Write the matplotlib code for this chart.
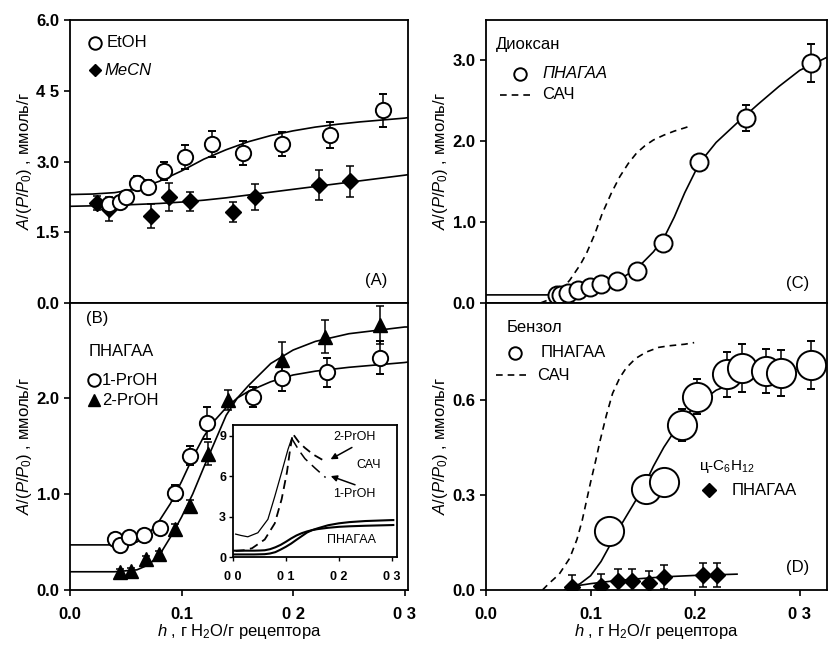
import matplotlib
matplotlib.use("Agg")
import matplotlib.pyplot as plt

plt.rcParams['font.family'] = ['Liberation Sans', 'DejaVu Sans']
plt.rcParams['mathtext.fontset'] = 'custom'
plt.rcParams['mathtext.rm'] = 'Liberation Sans'
plt.rcParams['mathtext.it'] = 'Liberation Sans:italic'
plt.rcParams['axes.linewidth'] = 1.3

# ---- panel A: EtOH / MeCN
etoh_h = [0.035, 0.0445, 0.05, 0.06, 0.07, 0.084, 0.103, 0.127, 0.155, 0.19, 0.233, 0.281]
etoh_a = [2.10, 2.14, 2.25, 2.54, 2.46, 2.80, 3.09, 3.37, 3.18, 3.37, 3.56, 4.09]
etoh_err = [0.1, 0.1, 0.12, 0.15, 0.15, 0.2, 0.25, 0.27, 0.25, 0.25, 0.27, 0.35]
mecn_h = [0.024, 0.035, 0.073, 0.089, 0.108, 0.146, 0.166, 0.223, 0.251]
mecn_a = [2.12, 1.99, 1.84, 2.25, 2.16, 1.93, 2.25, 2.50, 2.58]
mecn_err = [0.15, 0.25, 0.25, 0.3, 0.2, 0.22, 0.28, 0.32, 0.33]
fitA_h = [0, 0.02, 0.04, 0.06, 0.08, 0.10, 0.12, 0.14, 0.16, 0.18, 0.20, 0.22, 0.24, 0.26, 0.28, 0.30, 0.303]
etoh_fit = [2.30, 2.31, 2.34, 2.42, 2.58, 2.80, 3.05, 3.25, 3.42, 3.55, 3.65, 3.73, 3.79, 3.84, 3.88, 3.92, 3.93]
mecn_fit = [2.05, 2.06, 2.07, 2.09, 2.11, 2.14, 2.18, 2.23, 2.29, 2.35, 2.41, 2.47, 2.53, 2.59, 2.65, 2.71, 2.72]

# ---- panel B: 1-PrOH / 2-PrOH
pr1_h = [0.040, 0.0445, 0.053, 0.066, 0.081, 0.094, 0.108, 0.123, 0.164, 0.19, 0.23, 0.278]
pr1_a = [0.53, 0.47, 0.55, 0.57, 0.65, 1.01, 1.40, 1.74, 2.01, 2.21, 2.27, 2.42]
pr1_err = [0.05, 0.05, 0.05, 0.05, 0.05, 0.08, 0.1, 0.17, 0.1, 0.14, 0.15, 0.17]
pr2_h = [0.0445, 0.055, 0.068, 0.080, 0.094, 0.108, 0.124, 0.142, 0.19, 0.229, 0.278]
pr2_a = [0.19, 0.20, 0.32, 0.375, 0.64, 0.875, 1.42, 1.98, 2.40, 2.64, 2.76]
pr2_err = [0.03, 0.03, 0.03, 0.03, 0.05, 0.06, 0.12, 0.1, 0.18, 0.17, 0.2]
fitB_h = [0, 0.04, 0.05, 0.06, 0.07, 0.08, 0.09, 0.10, 0.11, 0.12, 0.13, 0.14, 0.15, 0.16,
          0.18, 0.20, 0.22, 0.25, 0.30, 0.303]
pr1_fit = [0.47, 0.47, 0.48, 0.50, 0.58, 0.72, 0.90, 1.13, 1.38, 1.60, 1.77, 1.90, 2.00, 2.07,
           2.17, 2.24, 2.28, 2.32, 2.37, 2.375]
pr2_fit = [0.19, 0.19, 0.20, 0.21, 0.26, 0.36, 0.55, 0.76, 1.00, 1.28, 1.55, 1.82, 2.00, 2.13,
           2.36, 2.50, 2.59, 2.67, 2.74, 2.74]

# inset: САЧ curves
sach1_h = [0.005, 0.015, 0.028, 0.047, 0.066, 0.079, 0.092, 0.104, 0.111, 0.125, 0.136, 0.155, 0.175]
sach1_a = [1.7, 1.6, 1.5, 1.8, 2.8, 4.5, 6.3, 8.0, 8.8, 7.9, 7.3, 6.6, 5.9]
sach2_h = [0.005, 0.02, 0.036, 0.06, 0.079, 0.092, 0.102, 0.108, 0.113, 0.125, 0.136, 0.152, 0.172]
sach2_a = [0.45, 0.5, 0.65, 1.3, 2.5, 4.3, 6.3, 8.0, 9.15, 8.5, 8.1, 7.6, 7.15]

# ---- panel C: диоксан
dio_h = [0.068, 0.072, 0.078, 0.088, 0.099, 0.11, 0.125, 0.144, 0.169, 0.204, 0.249, 0.311]
dio_a = [0.10, 0.10, 0.12, 0.16, 0.20, 0.23, 0.27, 0.40, 0.74, 1.74, 2.28, 2.96]
dio_err = [0.03, 0.03, 0.03, 0.03, 0.03, 0.03, 0.04, 0.05, 0.06, 0.08, 0.16, 0.23]
fitC_h = [0, 0.06, 0.068, 0.08, 0.09, 0.10, 0.11, 0.12, 0.13, 0.14, 0.15, 0.16, 0.17, 0.18,
          0.19, 0.20, 0.21, 0.22, 0.24, 0.26, 0.28, 0.30, 0.326]
dio_fit = [0.10, 0.10, 0.10, 0.13, 0.17, 0.20, 0.23, 0.26, 0.31, 0.39, 0.50, 0.63, 0.80, 1.06,
           1.36, 1.62, 1.82, 1.98, 2.22, 2.45, 2.67, 2.87, 3.03]
sachC_h = [0.052, 0.06, 0.07, 0.08, 0.09, 0.096, 0.104, 0.111, 0.12, 0.128, 0.136, 0.144, 0.152,
           0.16, 0.17, 0.18, 0.19, 0.197]
sachC_a = [0.0, 0.04, 0.14, 0.28, 0.47, 0.61, 0.85, 1.1, 1.36, 1.56, 1.72, 1.85, 1.94,
           2.01, 2.07, 2.12, 2.16, 2.19]

# ---- panel D: бензол / ц-C6H12
benz_h = [0.118, 0.153, 0.170, 0.187, 0.202, 0.230, 0.245, 0.268, 0.282, 0.311]
benz_a = [0.186, 0.32, 0.34, 0.52, 0.61, 0.68, 0.70, 0.69, 0.685, 0.71]
benz_err = [0.02, 0.02, 0.02, 0.05, 0.055, 0.07, 0.075, 0.07, 0.072, 0.075]
benz_fit_h = [0.075, 0.08, 0.09, 0.10, 0.11, 0.12, 0.13, 0.14, 0.15, 0.16, 0.17, 0.18, 0.19,
              0.20, 0.22, 0.25, 0.28, 0.31]
benz_fit = [0.0, 0.005, 0.02, 0.045, 0.09, 0.15, 0.21, 0.265, 0.32, 0.39, 0.45, 0.50, 0.545,
            0.58, 0.63, 0.67, 0.69, 0.70]
sachD_h = [0.054, 0.06, 0.07, 0.08, 0.087, 0.092, 0.096, 0.10, 0.105, 0.109, 0.115, 0.121,
           0.128, 0.134, 0.143, 0.153, 0.165, 0.175, 0.19, 0.199]
sachD_a = [0.0, 0.02, 0.05, 0.1, 0.16, 0.22, 0.28, 0.34, 0.41, 0.47, 0.55, 0.62,
           0.67, 0.70, 0.73, 0.75, 0.765, 0.77, 0.775, 0.78]
ch_h = [0.082, 0.11, 0.126, 0.14, 0.156, 0.17, 0.207, 0.221]
ch_a = [0.010, 0.012, 0.028, 0.028, 0.022, 0.041, 0.047, 0.047]
ch_err = [0.037] * len(ch_h)
ch_fit_h = [0.077, 0.09, 0.10, 0.12, 0.14, 0.16, 0.18, 0.20, 0.22, 0.24]
ch_fit = [0.008, 0.015, 0.02, 0.028, 0.034, 0.039, 0.043, 0.046, 0.048, 0.05]

# tick labels as printed
yticksA = [0, 1.5, 3.0, 4.5, 6.0]
ylabA = ["0.0", "1.5", "3.0", "4 5", "6.0"]
yticksB = [0, 1, 2]
ylabB = ["0.0", "1.0", "2.0"]
yticksC = [0, 1, 2, 3]
ylabC = ["0.0", "1.0", "2.0", "3.0"]
yticksD = [0, 0.3, 0.6]
ylabD = ["0.0", "0.3", "0.6"]
xticks = [0, 0.1, 0.2, 0.3]
xlabB = ["0.0", "0.1", "0 2", "0 3"]
xlabD = ["0.0", "0.1", "0.2", "0 3"]
ins_yticks = [0, 3, 6, 9]
ins_xlab = ["0 0", "0 1", "0 2", "0 3"]

ylab = r"$A/(P/P_0)$ , ммоль/г"
xlab = r"$h$ , г H$_2$O/г рецептора"

fig = plt.figure(figsize=(8.34, 6.45), dpi=100)
W, H = 834, 645
def box(l, t, r, b):
    return [l / W, 1 - b / H, (r - l) / W, (b - t) / H]

axA = fig.add_axes(box(70, 20, 408, 303))
axB = fig.add_axes(box(70, 303, 408, 590))
axC = fig.add_axes(box(486, 20, 827, 303))
axD = fig.add_axes(box(486, 303, 827, 590))

for ax in (axA, axB, axC, axD):
    ax.tick_params(direction='out', length=4, width=1.2, labelsize=12)
    ax.set_xticks(xticks)

ebkw = dict(ecolor='k', elinewidth=1.1, capsize=3, capthick=1.1, linestyle='none')
open_kw = dict(mfc='white', mec='k', mew=1.4)

# A
axA.plot(fitA_h, etoh_fit, 'k-', lw=1.2)
axA.plot(fitA_h, mecn_fit, 'k-', lw=1.2)
axA.errorbar(mecn_h, mecn_a, yerr=mecn_err, fmt='D', ms=8, color='k', **ebkw)
axA.errorbar(etoh_h, etoh_a, yerr=etoh_err, fmt='o', ms=11, **open_kw, **ebkw)
axA.set_xlim(0, 0.303)
axA.set_ylim(0, 6.0)
axA.set_yticks(yticksA, ylabA, fontweight='bold')
axA.set_xticklabels([])
axA.set_ylabel(ylab, fontsize=12, labelpad=2)
axA.plot([0.074], [0.919], 'o', ms=9, transform=axA.transAxes, **open_kw)
axA.text(0.108, 0.919, "EtOH", transform=axA.transAxes, fontsize=12, va='center')
axA.plot([0.074], [0.823], 'D', ms=6, color='k', transform=axA.transAxes)
axA.text(0.103, 0.823, "MeCN", transform=axA.transAxes, fontsize=12, va='center', style='italic')
axA.text(0.905, 0.08, "(A)", transform=axA.transAxes, fontsize=12, ha='center', va='center')

# B
axB.plot(fitB_h, pr1_fit, 'k-', lw=1.2)
axB.plot(fitB_h, pr2_fit, 'k-', lw=1.2)
axB.errorbar(pr2_h, pr2_a, yerr=pr2_err, fmt='^', ms=10, color='k', **ebkw)
axB.errorbar(pr1_h, pr1_a, yerr=pr1_err, fmt='o', ms=11, **open_kw, **ebkw)
axB.set_xlim(0, 0.303)
axB.set_ylim(0, 2.99)
axB.set_yticks(yticksB, ylabB, fontweight='bold')
axB.set_xticks(xticks, xlabB, fontweight='bold')
axB.tick_params(axis='x', pad=8)
axB.set_ylabel(ylab, fontsize=12, labelpad=2)
axB.set_xlabel(xlab, fontsize=12, labelpad=0)
axB.text(0.08, 0.945, "(B)", transform=axB.transAxes, fontsize=12, ha='center', va='center')
axB.text(0.055, 0.83, "ПНАГАА", transform=axB.transAxes, fontsize=12, va='center')
axB.plot([0.07], [0.73], 'o', ms=9, transform=axB.transAxes, **open_kw)
axB.text(0.095, 0.73, "1-PrOH", transform=axB.transAxes, fontsize=12, va='center')
axB.plot([0.07], [0.662], '^', ms=8, color='k', transform=axB.transAxes)
axB.text(0.095, 0.662, "2-PrOH", transform=axB.transAxes, fontsize=12, va='center')

# inset
axI = fig.add_axes(box(233, 425, 397, 557))
axI.plot(fitB_h, pr1_fit, 'k-', lw=1.5)
axI.plot(fitB_h, pr2_fit, 'k-', lw=1.5)
ip1 = sach1_a.index(max(sach1_a))
axI.plot(sach1_h[:ip1 + 1], sach1_a[:ip1 + 1], 'k-', lw=0.9)
axI.plot(sach1_h[ip1:], sach1_a[ip1:], color='k', lw=1.1, ls=(0, (7, 4)))
axI.plot(sach2_h, sach2_a, color='k', lw=1.3, ls=(0, (5, 3)))
axI.set_xlim(0, 0.31)
axI.set_ylim(0, 9.8)
axI.set_yticks(ins_yticks, [str(v) for v in ins_yticks], fontweight='bold')
axI.set_xticks(xticks, ins_xlab, fontweight='bold')
axI.tick_params(direction='out', length=3, width=1, labelsize=9, pad=2)
axI.tick_params(axis='x', pad=7)
axI.text(0.74, 0.91, "2-PrOH", transform=axI.transAxes, fontsize=9, ha='center', va='center')
axI.text(0.83, 0.70, "САЧ", transform=axI.transAxes, fontsize=9, ha='center', va='center')
axI.text(0.74, 0.48, "1-PrOH", transform=axI.transAxes, fontsize=9, ha='center', va='center')
axI.text(0.72, 0.13, "ПНАГАА", transform=axI.transAxes, fontsize=9, ha='center', va='center')
axI.annotate("", xy=(0.58, 0.73), xytext=(0.74, 0.84), xycoords='axes fraction',
             arrowprops=dict(arrowstyle='-|>', color='k', lw=1.1, mutation_scale=9))
axI.annotate("", xy=(0.58, 0.62), xytext=(0.76, 0.54), xycoords='axes fraction',
             arrowprops=dict(arrowstyle='-|>', color='k', lw=1.1, mutation_scale=9))

# C
axC.plot(fitC_h, dio_fit, 'k-', lw=1.2)
axC.plot(sachC_h, sachC_a, color='k', lw=1.2, ls=(0, (4, 3)))
axC.errorbar(dio_h, dio_a, yerr=dio_err, fmt='o', ms=13, **open_kw, **ebkw)
axC.set_xlim(0, 0.326)
axC.set_ylim(0, 3.49)
axC.set_yticks(yticksC, ylabC, fontweight='bold')
axC.set_xticklabels([])
axC.set_ylabel(ylab, fontsize=12, labelpad=2)
axC.text(0.03, 0.915, "Диоксан", transform=axC.transAxes, fontsize=12, va='center')
axC.plot([0.1], [0.81], 'o', ms=9, transform=axC.transAxes, **open_kw)
axC.text(0.165, 0.81, "ПНАГАА", transform=axC.transAxes, fontsize=12, va='center', style='italic')
axC.plot([0.04, 0.145], [0.735, 0.735], color='k', lw=1.2, ls=(0, (4, 3)), transform=axC.transAxes)
axC.text(0.165, 0.735, "САЧ", transform=axC.transAxes, fontsize=12, va='center')
axC.text(0.915, 0.07, "(C)", transform=axC.transAxes, fontsize=12, ha='center', va='center')

# D
axD.plot(benz_fit_h, benz_fit, 'k-', lw=1.2)
axD.plot(sachD_h, sachD_a, color='k', lw=1.2, ls=(0, (4, 3)))
axD.plot(ch_fit_h, ch_fit, 'k-', lw=1.2)
axD.errorbar(ch_h, ch_a, yerr=ch_err, fmt='D', ms=8, color='k', **ebkw)
axD.errorbar(benz_h, benz_a, yerr=benz_err, fmt='o', ms=21, **open_kw, **ebkw)
axD.set_xlim(0, 0.326)
axD.set_ylim(0, 0.905)
axD.set_yticks(yticksD, ylabD, fontweight='bold')
axD.set_xticks(xticks, xlabD, fontweight='bold')
axD.tick_params(axis='x', pad=8)
axD.set_ylabel(ylab, fontsize=12, labelpad=2)
axD.set_xlabel(xlab, fontsize=12, labelpad=0)
axD.text(0.06, 0.916, "Бензол", transform=axD.transAxes, fontsize=12, va='center')
axD.plot([0.085], [0.826], 'o', ms=9, transform=axD.transAxes, **open_kw)
axD.text(0.16, 0.826, "ПНАГАА", transform=axD.transAxes, fontsize=12, va='center')
axD.plot([0.03, 0.13], [0.749, 0.749], color='k', lw=1.2, ls=(0, (4, 3)), transform=axD.transAxes)
axD.text(0.15, 0.749, "САЧ", transform=axD.transAxes, fontsize=12, va='center')
axD.text(0.625, 0.43, "ц-C$_6$H$_{12}$", transform=axD.transAxes, fontsize=11, va='center')
axD.plot([0.655], [0.348], 'D', ms=7, color='k', transform=axD.transAxes)
axD.text(0.72, 0.348, "ПНАГАА", transform=axD.transAxes, fontsize=12, va='center')
axD.text(0.915, 0.077, "(D)", transform=axD.transAxes, fontsize=12, ha='center', va='center')

fig.savefig("out.png", dpi=100)
